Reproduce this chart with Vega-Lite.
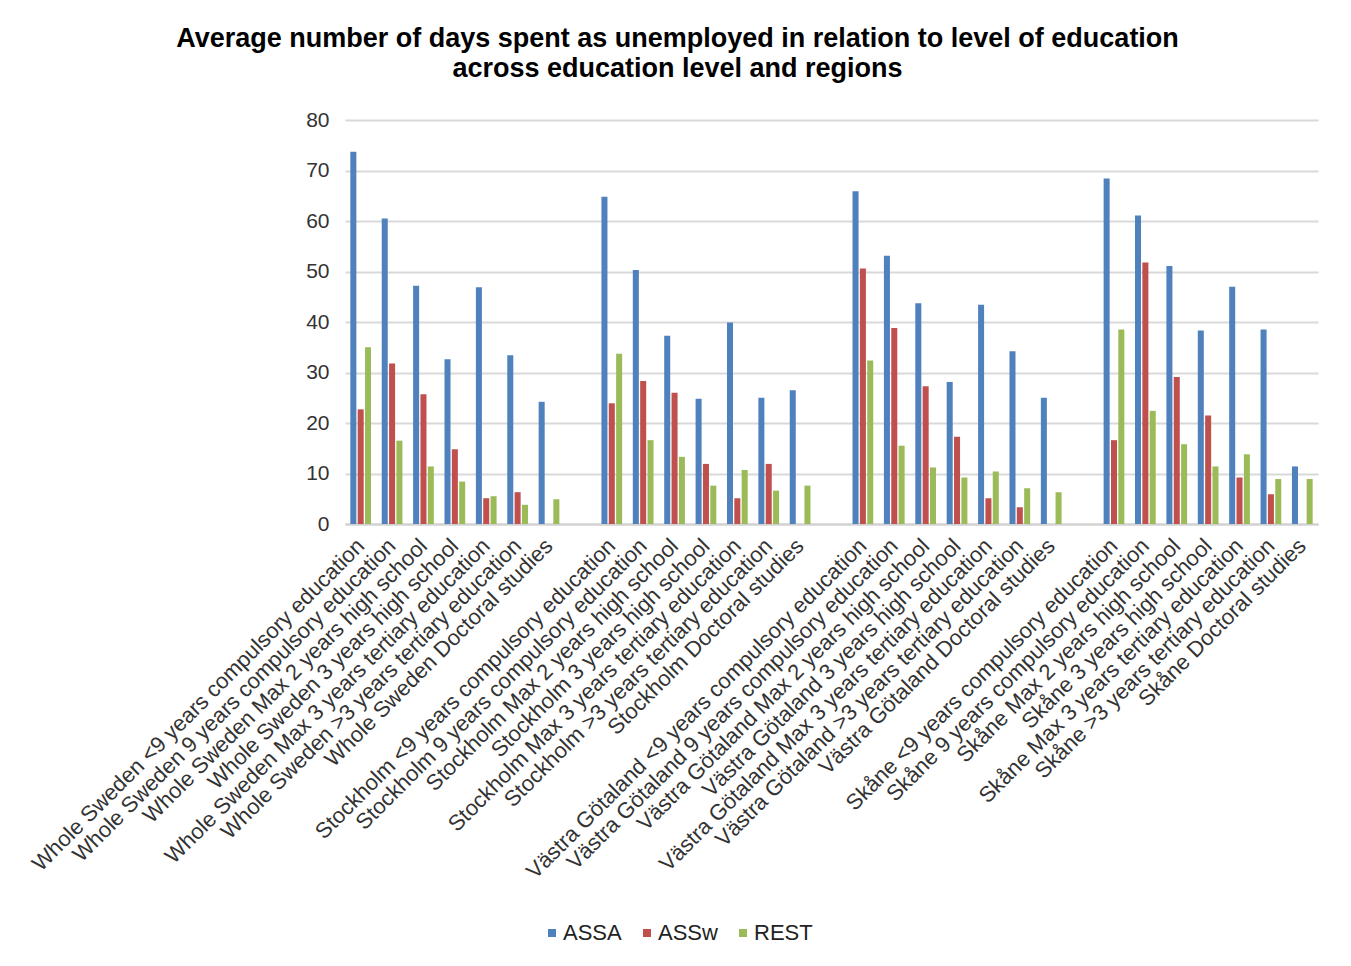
{
  "$schema": "https://vega.github.io/schema/vega-lite/v6.json",
  "width": 973,
  "height": 404,
  "autosize": "none",
  "padding": {"left": 345, "top": 120, "right": 33, "bottom": 442},
  "background": "white",
  "title": {
    "text": ["Average number of days spent as unemployed in relation to level of education", "across education level and regions"],
    "font": "Liberation Sans",
    "fontSize": 27,
    "fontWeight": "bold",
    "color": "#000000",
    "lineHeight": 30,
    "anchor": "middle",
    "dx": -154,
    "offset": 26
  },
  "data": {
    "values": [
      {"category": "Whole Sweden <9 years compulsory education", "series": "ASSA", "days": 73.7},
      {"category": "Whole Sweden <9 years compulsory education", "series": "ASSw", "days": 22.7},
      {"category": "Whole Sweden <9 years compulsory education", "series": "REST", "days": 35.0},
      {"category": "Whole Sweden 9 years compulsory education", "series": "ASSA", "days": 60.5},
      {"category": "Whole Sweden 9 years compulsory education", "series": "ASSw", "days": 31.8},
      {"category": "Whole Sweden 9 years compulsory education", "series": "REST", "days": 16.5},
      {"category": "Whole Sweden Max 2 years high school", "series": "ASSA", "days": 47.2},
      {"category": "Whole Sweden Max 2 years high school", "series": "ASSw", "days": 25.7},
      {"category": "Whole Sweden Max 2 years high school", "series": "REST", "days": 11.4},
      {"category": "Whole Sweden 3 years high school", "series": "ASSA", "days": 32.6},
      {"category": "Whole Sweden 3 years high school", "series": "ASSw", "days": 14.8},
      {"category": "Whole Sweden 3 years high school", "series": "REST", "days": 8.4},
      {"category": "Whole Sweden Max 3 years tertiary education", "series": "ASSA", "days": 46.9},
      {"category": "Whole Sweden Max 3 years tertiary education", "series": "ASSw", "days": 5.1},
      {"category": "Whole Sweden Max 3 years tertiary education", "series": "REST", "days": 5.5},
      {"category": "Whole Sweden >3 years tertiary education", "series": "ASSA", "days": 33.4},
      {"category": "Whole Sweden >3 years tertiary education", "series": "ASSw", "days": 6.3},
      {"category": "Whole Sweden >3 years tertiary education", "series": "REST", "days": 3.8},
      {"category": "Whole Sweden Doctoral studies", "series": "ASSA", "days": 24.2},
      {"category": "Whole Sweden Doctoral studies", "series": "REST", "days": 4.9},

      {"category": "Stockholm <9 years compulsory education", "series": "ASSA", "days": 64.8},
      {"category": "Stockholm <9 years compulsory education", "series": "ASSw", "days": 23.9},
      {"category": "Stockholm <9 years compulsory education", "series": "REST", "days": 33.7},
      {"category": "Stockholm 9 years compulsory education", "series": "ASSA", "days": 50.3},
      {"category": "Stockholm 9 years compulsory education", "series": "ASSw", "days": 28.3},
      {"category": "Stockholm 9 years compulsory education", "series": "REST", "days": 16.6},
      {"category": "Stockholm Max 2 years high school", "series": "ASSA", "days": 37.3},
      {"category": "Stockholm Max 2 years high school", "series": "ASSw", "days": 26.0},
      {"category": "Stockholm Max 2 years high school", "series": "REST", "days": 13.3},
      {"category": "Stockholm 3 years high school", "series": "ASSA", "days": 24.8},
      {"category": "Stockholm 3 years high school", "series": "ASSw", "days": 11.9},
      {"category": "Stockholm 3 years high school", "series": "REST", "days": 7.6},
      {"category": "Stockholm Max 3 years tertiary education", "series": "ASSA", "days": 39.9},
      {"category": "Stockholm Max 3 years tertiary education", "series": "ASSw", "days": 5.1},
      {"category": "Stockholm Max 3 years tertiary education", "series": "REST", "days": 10.7},
      {"category": "Stockholm >3 years tertiary education", "series": "ASSA", "days": 25.0},
      {"category": "Stockholm >3 years tertiary education", "series": "ASSw", "days": 11.9},
      {"category": "Stockholm >3 years tertiary education", "series": "REST", "days": 6.6},
      {"category": "Stockholm Doctoral studies", "series": "ASSA", "days": 26.5},
      {"category": "Stockholm Doctoral studies", "series": "REST", "days": 7.6},

      {"category": "Västra Götaland <9 years compulsory education", "series": "ASSA", "days": 65.9},
      {"category": "Västra Götaland <9 years compulsory education", "series": "ASSw", "days": 50.6},
      {"category": "Västra Götaland <9 years compulsory education", "series": "REST", "days": 32.4},
      {"category": "Västra Götaland 9 years compulsory education", "series": "ASSA", "days": 53.1},
      {"category": "Västra Götaland 9 years compulsory education", "series": "ASSw", "days": 38.8},
      {"category": "Västra Götaland 9 years compulsory education", "series": "REST", "days": 15.5},
      {"category": "Västra Götaland Max 2 years high school", "series": "ASSA", "days": 43.7},
      {"category": "Västra Götaland Max 2 years high school", "series": "ASSw", "days": 27.3},
      {"category": "Västra Götaland Max 2 years high school", "series": "REST", "days": 11.2},
      {"category": "Västra Götaland 3 years high school", "series": "ASSA", "days": 28.1},
      {"category": "Västra Götaland 3 years high school", "series": "ASSw", "days": 17.3},
      {"category": "Västra Götaland 3 years high school", "series": "REST", "days": 9.2},
      {"category": "Västra Götaland Max 3 years tertiary education", "series": "ASSA", "days": 43.4},
      {"category": "Västra Götaland Max 3 years tertiary education", "series": "ASSw", "days": 5.1},
      {"category": "Västra Götaland Max 3 years tertiary education", "series": "REST", "days": 10.4},
      {"category": "Västra Götaland >3 years tertiary education", "series": "ASSA", "days": 34.2},
      {"category": "Västra Götaland >3 years tertiary education", "series": "ASSw", "days": 3.3},
      {"category": "Västra Götaland >3 years tertiary education", "series": "REST", "days": 7.1},
      {"category": "Västra Götaland Doctoral studies", "series": "ASSA", "days": 25.0},
      {"category": "Västra Götaland Doctoral studies", "series": "REST", "days": 6.3},

      {"category": "Skåne <9 years compulsory education", "series": "ASSA", "days": 68.4},
      {"category": "Skåne <9 years compulsory education", "series": "ASSw", "days": 16.6},
      {"category": "Skåne <9 years compulsory education", "series": "REST", "days": 38.5},
      {"category": "Skåne 9 years compulsory education", "series": "ASSA", "days": 61.1},
      {"category": "Skåne 9 years compulsory education", "series": "ASSw", "days": 51.8},
      {"category": "Skåne 9 years compulsory education", "series": "REST", "days": 22.4},
      {"category": "Skåne Max 2 years high school", "series": "ASSA", "days": 51.1},
      {"category": "Skåne Max 2 years high school", "series": "ASSw", "days": 29.1},
      {"category": "Skåne Max 2 years high school", "series": "REST", "days": 15.8},
      {"category": "Skåne 3 years high school", "series": "ASSA", "days": 38.3},
      {"category": "Skåne 3 years high school", "series": "ASSw", "days": 21.5},
      {"category": "Skåne 3 years high school", "series": "REST", "days": 11.4},
      {"category": "Skåne Max 3 years tertiary education", "series": "ASSA", "days": 47.0},
      {"category": "Skåne Max 3 years tertiary education", "series": "ASSw", "days": 9.2},
      {"category": "Skåne Max 3 years tertiary education", "series": "REST", "days": 13.8},
      {"category": "Skåne >3 years tertiary education", "series": "ASSA", "days": 38.5},
      {"category": "Skåne >3 years tertiary education", "series": "ASSw", "days": 5.9},
      {"category": "Skåne >3 years tertiary education", "series": "REST", "days": 8.9},
      {"category": "Skåne Doctoral studies", "series": "ASSA", "days": 11.4},
      {"category": "Skåne Doctoral studies", "series": "REST", "days": 8.9}
    ]
  },
  "mark": {"type": "bar"},
  "encoding": {
    "x": {
      "field": "category",
      "type": "nominal",
      "sort": null,
      "title": null,
      "scale": {
        "domain": [
          "Whole Sweden <9 years compulsory education",
          "Whole Sweden 9 years compulsory education",
          "Whole Sweden Max 2 years high school",
          "Whole Sweden 3 years high school",
          "Whole Sweden Max 3 years tertiary education",
          "Whole Sweden >3 years tertiary education",
          "Whole Sweden Doctoral studies",
          " ",
          "Stockholm <9 years compulsory education",
          "Stockholm 9 years compulsory education",
          "Stockholm Max 2 years high school",
          "Stockholm 3 years high school",
          "Stockholm Max 3 years tertiary education",
          "Stockholm >3 years tertiary education",
          "Stockholm Doctoral studies",
          "  ",
          "Västra Götaland <9 years compulsory education",
          "Västra Götaland 9 years compulsory education",
          "Västra Götaland Max 2 years high school",
          "Västra Götaland 3 years high school",
          "Västra Götaland Max 3 years tertiary education",
          "Västra Götaland >3 years tertiary education",
          "Västra Götaland Doctoral studies",
          "   ",
          "Skåne <9 years compulsory education",
          "Skåne 9 years compulsory education",
          "Skåne Max 2 years high school",
          "Skåne 3 years high school",
          "Skåne Max 3 years tertiary education",
          "Skåne >3 years tertiary education",
          "Skåne Doctoral studies"
        ],
        "paddingInner": 0.34,
        "paddingOuter": 0.17
      },
      "axis": {
        "labelAngle": -45,
        "labelAlign": "right",
        "labelBaseline": "middle",
        "labelFont": "Liberation Sans",
        "labelFontSize": 22,
        "labelColor": "#333333",
        "labelLimit": 0,
        "labelPadding": 18,
        "labelOverlap": false,
        "ticks": false,
        "domain": true,
        "domainColor": "#d0d0d0",
        "domainWidth": 2,
        "grid": false
      }
    },
    "xOffset": {
      "field": "series",
      "sort": ["ASSA", "ASSw", "REST"],
      "scale": {"paddingInner": 0.18}
    },
    "y": {
      "field": "days",
      "type": "quantitative",
      "title": null,
      "scale": {"domain": [0, 80], "nice": false},
      "axis": {
        "values": [0, 10, 20, 30, 40, 50, 60, 70, 80],
        "labelFont": "Liberation Sans",
        "labelFontSize": 21,
        "labelColor": "#333333",
        "labelPadding": 16,
        "ticks": false,
        "domain": false,
        "grid": true,
        "gridColor": "#d9d9d9",
        "gridWidth": 2
      }
    },
    "color": {
      "field": "series",
      "type": "nominal",
      "scale": {
        "domain": ["ASSA", "ASSw", "REST"],
        "range": ["#4f81bd", "#c0504d", "#9bbb59"]
      },
      "legend": {
        "title": null,
        "orient": "none",
        "direction": "horizontal",
        "legendX": 196,
        "legendY": 802,
        "symbolType": "square",
        "symbolSize": 64,
        "symbolStrokeWidth": 0,
        "labelFont": "Liberation Sans",
        "labelFontSize": 22,
        "labelColor": "#222222",
        "labelOffset": 0,
        "columnPadding": 14
      }
    }
  },
  "config": {
    "view": {"stroke": null}
  }
}
